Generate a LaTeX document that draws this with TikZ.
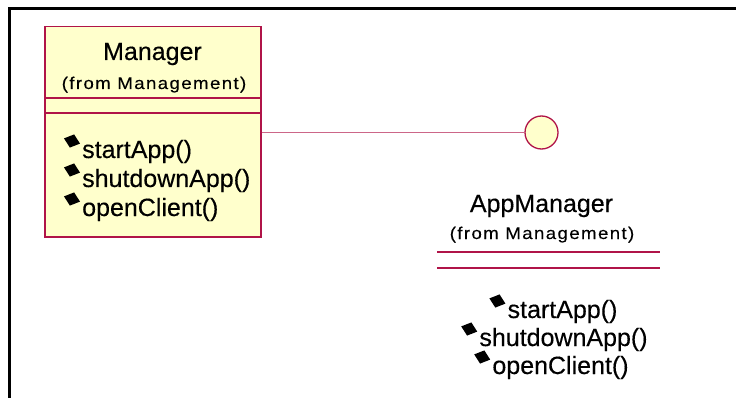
\documentclass[tikz,border=0pt]{standalone}
\usepackage{fontspec}
\setmainfont{Liberation Sans}[FakeBold=0.3]
\newfontfamily\fromfont{Liberation Sans}[FakeStretch=1.1, LetterSpace=8, FakeBold=0.2]
\usetikzlibrary{shapes.geometric}
\definecolor{roseline}{RGB}{176,20,72}
\definecolor{rosefill}{RGB}{255,255,204}
\tikzset{
  classbox/.style={draw=roseline, fill=rosefill, line width=1.5pt, inner sep=0pt, anchor=north west},
  compline/.style={draw=roseline, line width=1.3pt},
  connector/.style={draw=roseline!65, line width=1.8pt},
  iface/.style={circle, draw=roseline, fill=rosefill, line width=1.3pt, inner sep=0pt, minimum size=33pt},
  classname/.style={anchor=base, inner sep=0pt, font=\fontsize{25}{29}\selectfont},
  fromtext/.style={anchor=base, inner sep=0pt, font=\fromfont\fontsize{17}{20}\selectfont},
  optext/.style={inner sep=0pt, font=\fontsize{25}{29}\selectfont},
  opmark/.style={diamond, fill=black, inner sep=0pt, minimum width=17pt, minimum height=14pt, rotate=-18},
  frame/.style={draw=black, line width=3.5pt}
}
\begin{document}
\begin{tikzpicture}[x=1pt, y=-1pt]
\useasboundingbox (0,0) rectangle (736,398);
\clip (0,0) rectangle (736,398);
\fill[white] (0,0) rectangle (736,398);

% outer frame (top and left edges)
\coordinate (frameA) at (9.5,420);
\coordinate (frameB) at (9.5,8.5);
\coordinate (frameC) at (760,8.5);
\draw[frame] (frameA) -- (frameB) -- (frameC);

% Manager class
\node[classbox, minimum width=216pt, minimum height=210pt] (manager) at (44,26) {};
\draw[compline] (manager.west |- 0,98) -- (manager.east |- 0,98);
\draw[compline] (manager.west |- 0,113) -- (manager.east |- 0,113);
\node[classname] (mname) at (152.5,60) {Manager};
\node[fromtext] (mfrom) at (154,89) {(from Management)};

\node[optext, anchor=base west] (mop1) at (82,158) {startApp()};
\node[optext, anchor=base west] (mop2) at (82,187) {shutdownApp()};
\node[optext, anchor=base west] (mop3) at (82,216) {openClient()};
\foreach \o in {mop1,mop2,mop3}
  \node[opmark] at ([xshift=-10pt,yshift=17pt]\o.base west) {};

% AppManager interface (lollipop)
\node[iface] (appiface) at (541.5,132.5) {};
\draw[connector] (manager.east |- appiface.west) -- (appiface.west);

\node[classname] (aname) at (541.5,212) {AppManager};
\node[fromtext] (afrom) at (542,239) {(from Management)};
\coordinate (al1) at (437,252);
\coordinate (ar1) at (660,252);
\coordinate (al2) at (437,268);
\coordinate (ar2) at (660,268);
\draw[compline] (al1) -- (ar1);
\draw[compline] (al2) -- (ar2);

\node[optext, anchor=base] (aop1) at (562.5,318) {startApp()};
\node[optext, anchor=base] (aop2) at (563.5,346) {shutdownApp()};
\node[optext, anchor=base] (aop3) at (560.5,374) {openClient()};
\foreach \o in {aop1,aop2,aop3}
  \node[opmark] at ([xshift=-10pt,yshift=17pt]\o.base west) {};
\end{tikzpicture}
\end{document}
